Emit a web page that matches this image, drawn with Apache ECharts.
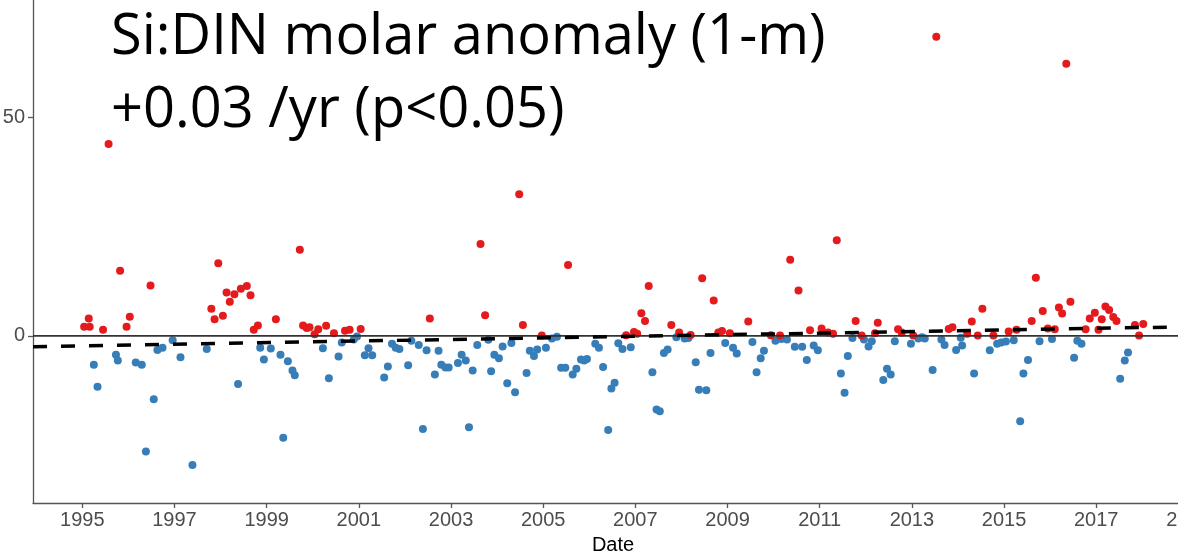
<!DOCTYPE html>
<html>
<head>
<meta charset="utf-8">
<script src="https://cdn.jsdelivr.net/npm/echarts@6/dist/echarts.min.js"></script>
<style>
  html, body { margin: 0; padding: 0; background: #fff; }
  #chart { width: 1178px; height: 554px; }
</style>
</head>
<body>
<div id="chart"></div>
<script>
// Monthly Si:DIN molar anomaly, surface (1 m); [decimal year, anomaly]
const positiveAnomaly = [
  [1995.04, 2.1], [1995.14, 4.0], [1995.16, 2.1], [1995.45, 1.4], [1995.57, 43.9],
  [1995.82, 14.9], [1995.96, 2.1], [1996.03, 4.4], [1996.48, 11.5], [1997.80, 6.2],
  [1997.87, 3.8], [1997.95, 16.6], [1998.05, 4.6], [1998.13, 9.9], [1998.20, 7.8],
  [1998.30, 9.5], [1998.44, 10.8], [1998.57, 11.4], [1998.65, 9.3], [1998.72, 1.4],
  [1998.81, 2.4], [1999.20, 3.8], [1999.72, 19.7], [1999.79, 2.4], [1999.87, 1.8],
  [1999.93, 2.0], [2000.04, 0.4], [2000.12, 1.5], [2000.29, 2.3], [2000.46, 0.6],
  [2000.70, 1.2], [2000.80, 1.4], [2001.04, 1.6], [2002.54, 4.0], [2003.64, 21.0],
  [2003.74, 4.7], [2004.48, 32.4], [2004.56, 2.5], [2004.97, 0.1], [2005.54, 16.2],
  [2006.80, 0.15], [2006.97, 0.9], [2007.04, 0.5], [2007.13, 5.2], [2007.21, 3.4],
  [2007.29, 11.4], [2007.78, 2.5], [2007.95, 0.8], [2008.20, 0.2], [2008.45, 13.2],
  [2008.70, 8.1], [2008.80, 0.8], [2008.88, 1.1], [2009.05, 0.6], [2009.45, 3.3],
  [2009.94, 0.15], [2010.14, 0.1], [2010.36, 17.4], [2010.54, 10.4], [2010.79, 1.3],
  [2011.04, 1.7], [2011.18, 0.8], [2011.29, 0.5], [2011.37, 21.9], [2011.78, 3.4],
  [2011.91, 0.1], [2012.20, 0.6], [2012.26, 3.0], [2012.70, 1.5], [2012.78, 0.8],
  [2013.03, 0.1], [2013.53, 68.4], [2013.80, 1.6], [2013.88, 2.0], [2014.20, 0.5],
  [2014.30, 3.3], [2014.43, 0.1], [2014.53, 6.2], [2014.77, 0.1], [2015.10, 1.0],
  [2015.27, 1.4], [2015.60, 3.4], [2015.69, 13.3], [2015.84, 5.7], [2015.95, 1.7],
  [2016.10, 1.5], [2016.19, 6.5], [2016.26, 5.1], [2016.35, 62.2], [2016.44, 7.8],
  [2016.77, 1.5], [2016.86, 4.0], [2016.97, 5.3], [2017.05, 1.4], [2017.12, 3.8],
  [2017.20, 6.7], [2017.28, 5.9], [2017.37, 4.3], [2017.44, 3.4], [2017.84, 2.5],
  [2017.93, 0.1], [2018.02, 2.7]
];

const negativeAnomaly = [
  [1995.25, -6.6], [1995.33, -11.6], [1995.73, -4.3], [1995.77, -5.6], [1996.16, -6.1],
  [1996.29, -6.6], [1996.38, -26.4], [1996.55, -14.5], [1996.63, -3.2], [1996.74, -2.7],
  [1996.96, -1.0], [1997.13, -4.9], [1997.39, -29.5], [1997.70, -3.0], [1998.38, -11.0],
  [1998.86, -2.7], [1998.94, -5.4], [1999.09, -2.9], [1999.30, -4.3], [1999.36, -23.3],
  [1999.46, -5.8], [1999.56, -7.9], [1999.61, -9.0], [2000.22, -2.8], [2000.35, -9.7],
  [2000.56, -4.7], [2000.63, -1.5], [2000.89, -0.8], [2000.96, -0.15], [2001.13, -4.4],
  [2001.21, -2.8], [2001.29, -4.4], [2001.55, -9.5], [2001.63, -7.0], [2001.72, -1.8],
  [2001.80, -2.7], [2001.88, -3.0], [2002.07, -6.7], [2002.14, -1.1], [2002.30, -2.1],
  [2002.39, -21.3], [2002.47, -3.3], [2002.65, -8.8], [2002.73, -3.4], [2002.79, -6.6],
  [2002.88, -7.2], [2002.95, -7.2], [2003.15, -6.2], [2003.23, -4.3], [2003.32, -5.6],
  [2003.39, -20.9], [2003.47, -7.9], [2003.57, -2.1], [2003.81, -0.9], [2003.87, -8.1],
  [2003.94, -4.3], [2004.04, -5.1], [2004.12, -2.4], [2004.22, -10.8], [2004.31, -1.6],
  [2004.39, -12.9], [2004.64, -8.5], [2004.71, -3.4], [2004.80, -4.6], [2004.87, -3.1],
  [2005.06, -2.7], [2005.19, -0.6], [2005.30, -0.2], [2005.39, -7.3], [2005.48, -7.3],
  [2005.64, -8.8], [2005.72, -7.5], [2005.82, -5.4], [2005.89, -5.6], [2005.95, -5.3],
  [2006.13, -1.8], [2006.21, -2.7], [2006.30, -7.1], [2006.41, -21.5], [2006.48, -12.0],
  [2006.55, -10.7], [2006.63, -1.7], [2006.72, -3.0], [2006.90, -2.6], [2007.37, -8.3],
  [2007.46, -16.8], [2007.53, -17.2], [2007.62, -3.9], [2007.70, -3.1], [2007.89, -0.3],
  [2008.07, -0.6], [2008.15, -0.5], [2008.31, -6.0], [2008.38, -12.3], [2008.54, -12.4],
  [2008.63, -3.9], [2008.95, -1.6], [2009.12, -2.7], [2009.20, -4.0], [2009.54, -1.4],
  [2009.63, -8.3], [2009.72, -5.1], [2009.79, -3.4], [2010.04, -1.1], [2010.17, -0.7],
  [2010.29, -0.8], [2010.46, -2.5], [2010.62, -2.5], [2010.72, -5.5], [2010.87, -2.2],
  [2010.96, -3.3], [2011.46, -8.6], [2011.54, -13.0], [2011.61, -4.6], [2011.71, -0.5],
  [2011.96, -0.8], [2012.06, -2.4], [2012.13, -1.2], [2012.38, -10.1], [2012.46, -7.5],
  [2012.54, -8.8], [2012.63, -1.2], [2012.98, -1.8], [2013.14, -0.6], [2013.22, -0.3],
  [2013.28, -0.6], [2013.45, -7.8], [2013.64, -0.8], [2013.71, -2.1], [2013.96, -3.2],
  [2014.06, -0.4], [2014.09, -2.2], [2014.35, -8.6], [2014.69, -3.3], [2014.85, -1.8],
  [2014.94, -1.5], [2015.04, -1.3], [2015.21, -1.0], [2015.35, -19.5], [2015.42, -8.6],
  [2015.52, -5.5], [2015.77, -1.2], [2016.04, -0.7], [2016.52, -5.0], [2016.59, -1.1],
  [2016.68, -1.8], [2017.52, -9.8], [2017.62, -5.6], [2017.69, -3.8]
];

// Linear trend (end points across the plotted date range)
const trendLine = [[1993.93, -2.45], [2019.1, 2.11]];

// Axis ranges and tick labels
const xRange = [1993.93, 2019.1];
const yRange = [-38.2, 76.8];
const xTicks = [1995, 1997, 1999, 2001, 2003, 2005, 2007, 2009, 2011, 2013, 2015, 2017, 2019];
const yTicks = [0, 50];

const titleLines = ['Si:DIN molar anomaly (1-m)', '+0.03 /yr (p<0.05)'];

const RED = '#E41A1C';
const BLUE = '#377EB8';
const AXIS_GREY = '#555555';
const LABEL_GREY = '#4D4D4D';
const SANS = '"Liberation Sans", Arial, sans-serif';
const TITLE_FONT = '56px "Open Sans", "Noto Sans", sans-serif';

const chart = echarts.init(document.getElementById('chart'), null, { renderer: 'canvas' });

chart.setOption({
  animation: false,
  backgroundColor: '#ffffff',
  grid: {
    left: 33, top: 0, width: 1160, height: 503,
    containLabel: false,
    outerBoundsMode: 'none'
  },
  xAxis: {
    type: 'value',
    min: xRange[0], max: xRange[1],
    name: 'Date',
    nameLocation: 'middle',
    nameGap: 32,
    nameTextStyle: { fontFamily: SANS, fontSize: 20, color: '#000' },
    axisLine: { show: true, onZero: false, lineStyle: { color: AXIS_GREY, width: 1.3 } },
    axisTick: { show: true, length: 5, customValues: xTicks, lineStyle: { color: AXIS_GREY, width: 1.3 } },
    axisLabel: {
      customValues: xTicks,
      margin: 7,
      fontFamily: SANS, fontSize: 20, color: LABEL_GREY,
      formatter: v => String(Math.round(v))
    },
    splitLine: { show: false }
  },
  yAxis: {
    type: 'value',
    min: yRange[0], max: yRange[1],
    axisLine: { show: true, onZero: false, lineStyle: { color: AXIS_GREY, width: 1.3 } },
    axisTick: { show: true, length: 5, customValues: yTicks, lineStyle: { color: AXIS_GREY, width: 1.3 } },
    axisLabel: {
      customValues: yTicks,
      margin: 8,
      fontFamily: SANS, fontSize: 20, color: LABEL_GREY,
      formatter: v => String(Math.round(v))
    },
    splitLine: { show: false }
  },
  series: [
    {
      type: 'scatter',
      data: negativeAnomaly,
      symbol: 'circle',
      symbolSize: 8,
      itemStyle: { color: BLUE, opacity: 1 },
      silent: true,
      z: 2
    },
    {
      type: 'scatter',
      data: positiveAnomaly,
      symbol: 'circle',
      symbolSize: 8,
      itemStyle: { color: RED, opacity: 1 },
      silent: true,
      z: 2
    },
    {
      type: 'line',
      data: [[xRange[0], 0], [xRange[1], 0]],
      showSymbol: false,
      symbol: 'none',
      lineStyle: { color: '#333333', width: 1.8 },
      silent: true,
      z: 3
    },
    {
      type: 'line',
      data: trendLine,
      showSymbol: false,
      symbol: 'none',
      lineStyle: { color: '#000000', width: 3.5, type: [14, 14] },
      silent: true,
      z: 4
    }
  ],
  graphic: [
    {
      type: 'text', left: 111, top: 10, silent: true,
      style: { text: titleLines[0], font: TITLE_FONT, fill: '#000' }
    },
    {
      type: 'text', left: 111, top: 83, silent: true,
      style: { text: titleLines[1], font: TITLE_FONT, fill: '#000' }
    }
  ]
});
</script>
</body>
</html>
